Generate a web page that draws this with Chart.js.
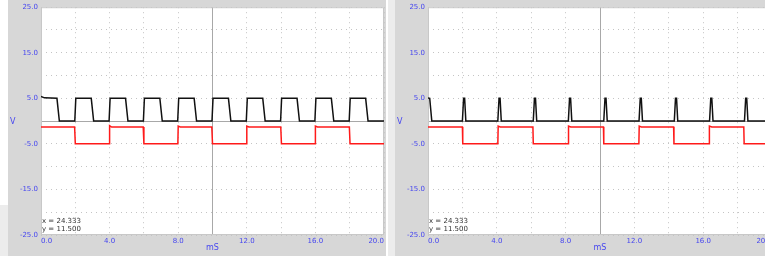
<!DOCTYPE html>
<html>
<head>
<meta charset="utf-8">
<script src="https://cdn.jsdelivr.net/npm/chart.js@4.4.1/dist/chart.umd.min.js"></script>
<style>
  html, body { margin: 0; padding: 0; background: #fff; }
  body { width: 765px; height: 256px; overflow: hidden; position: relative; font-family: "DejaVu Sans", sans-serif; }
  .panel { position: absolute; top: 0; height: 256px; background: #d7d7d7; overflow: hidden; }
  .panel canvas { position: absolute; left: 0; top: 0; }
  .eje-v { position: absolute; left: 2px; top: 117px; font-size: 8px; line-height: 9px; color: #4646f0; }
  .cursor { position: absolute; left: 34px; top: 217px; font-size: 7px; line-height: 8.4px; color: #333; white-space: pre; }
  .franja { position: absolute; background: #ececec; }
</style>
</head>
<body>
<div class="franja" style="left:0; top:205px; width:8px; height:51px;"></div>
<div class="franja" style="left:388px; top:0; width:7px; height:256px;"></div>

<div class="panel" style="left:8px; width:378px;">
  <canvas id="grafIzq" width="378" height="256"></canvas>
  <span class="eje-v">V</span>
  <div class="cursor">x = 24.333
y = 11.500</div>
</div>

<div class="panel" style="left:395px; width:379px;">
  <canvas id="grafDer" width="379" height="256"></canvas>
  <span class="eje-v">V</span>
  <div class="cursor">x = 24.333
y = 11.500</div>
</div>

<script>
// ===== Datos (tiempo en mS, tensión en V) =====
const xEtiquetas = [0, 4, 8, 12, 16, 20];
const yEtiquetas = [25, 15, 5, -5, -15, -25];

// Panel izquierdo: canal negro (onda cuadrada 50%) y canal rojo
const izqNegro = [
    [0, 5.4], [0.2, 5.1], [0.93, 5.0], [1.07, 0],
    [1.97, 0], [2.03, 5.0], [2.93, 5.0], [3.07, 0],
    [3.97, 0], [4.03, 5.0], [4.93, 5.0], [5.07, 0],
    [5.97, 0], [6.03, 5.0], [6.93, 5.0], [7.07, 0],
    [7.97, 0], [8.03, 5.0], [8.93, 5.0], [9.07, 0],
    [9.97, 0], [10.03, 5.0], [10.93, 5.0], [11.07, 0],
    [11.97, 0], [12.03, 5.0], [12.93, 5.0], [13.07, 0],
    [13.97, 0], [14.03, 5.0], [14.93, 5.0], [15.07, 0],
    [15.97, 0], [16.03, 5.0], [16.93, 5.0], [17.07, 0],
    [17.97, 0], [18.03, 5.0], [18.93, 5.0], [19.07, 0],
    [20, 0]
];
const izqRojo = [
    [0, -1.3], [1.96, -1.3], [2.0, -4.95], [3.98, -4.95],
    [4.0, -1.0], [4.12, -1.3], [5.96, -1.3], [6.0, -4.95],
    [7.98, -4.95], [8.0, -1.1], [8.12, -1.3], [9.96, -1.3],
    [10.0, -4.95], [11.96, -4.95], [12.0, -1.1], [12.12, -1.3],
    [13.98, -1.3], [14.02, -4.95], [15.98, -4.95], [16.0, -1.1],
    [16.12, -1.3], [17.98, -1.3], [18.02, -4.95], [20, -4.95]
];

// Panel derecho: pulsos estrechos y canal rojo
const derNegro = [
    [0, 5.1], [0.1, 5.0], [0.22, 0],
    [2.0, 0], [2.07, 5.0], [2.13, 5.0], [2.2, 0],
    [4.06, 0], [4.13, 5.0], [4.19, 5.0], [4.26, 0],
    [6.12, 0], [6.19, 5.0], [6.25, 5.0], [6.32, 0],
    [8.16, 0], [8.23, 5.0], [8.29, 5.0], [8.36, 0],
    [10.22, 0], [10.29, 5.0], [10.35, 5.0], [10.42, 0],
    [12.27, 0], [12.34, 5.0], [12.4, 5.0], [12.47, 0],
    [14.32, 0], [14.39, 5.0], [14.45, 5.0], [14.52, 0],
    [16.37, 0], [16.44, 5.0], [16.5, 5.0], [16.57, 0],
    [18.4, 0], [18.47, 5.0], [18.53, 5.0], [18.6, 0],
    [20, 0]
];
const derRojo = [
    [0, -1.3], [2.0, -1.3], [2.02, -4.95], [4.06, -4.95],
    [4.08, -1.1], [4.2, -1.3], [6.1, -1.3], [6.12, -4.95],
    [8.15, -4.95], [8.17, -1.1], [8.3, -1.3], [10.2, -1.3],
    [10.22, -4.95], [12.26, -4.95], [12.28, -1.1], [12.4, -1.3],
    [14.28, -1.3], [14.3, -4.95], [16.34, -4.95], [16.36, -1.1],
    [16.5, -1.3], [18.36, -1.3], [18.38, -4.95], [20, -4.95]
];

const AZUL = '#4646f0';
const FUENTE = 'DejaVu Sans';

// fondo blanco del área de trazado + marco
const areaBlanca = {
    id: 'areaBlanca',
    beforeDraw(chart) {
        const { ctx, chartArea: a } = chart;
        ctx.save();
        ctx.fillStyle = '#fff';
        ctx.fillRect(a.left, a.top, a.right - a.left, a.bottom - a.top);
        ctx.restore();
    },
    beforeDatasetsDraw(chart) {
        const { ctx, chartArea: a } = chart;
        ctx.save();
        ctx.strokeStyle = '#c8c8c8';
        ctx.lineWidth = 1;
        ctx.strokeRect(a.left + 0.5, a.top + 0.5, a.right - a.left - 1, a.bottom - a.top - 1);
        ctx.restore();
    }
};

function aPuntos(pares) {
    return pares.map(p => ({ x: p[0], y: p[1] }));
}

function crearGrafico(id, negro, rojo) {
    return new Chart(document.getElementById(id), {
        type: 'line',
        data: {
            datasets: [
                { data: aPuntos(rojo), borderColor: '#ff1a1a', borderWidth: 1.5, pointRadius: 0, tension: 0 },
                { data: aPuntos(negro), borderColor: '#111', borderWidth: 1.5, pointRadius: 0, tension: 0 }
            ]
        },
        options: {
            responsive: false,
            animation: false,
            layout: { padding: { top: 5, right: 1, left: 0, bottom: 0 } },
            plugins: { legend: { display: false }, tooltip: { enabled: false } },
            scales: {
                x: {
                    type: 'linear', min: 0, max: 20,
                    ticks: {
                        stepSize: 2, autoSkip: false, maxRotation: 0, align: 'inner', padding: 2,
                        color: AZUL, font: { family: FUENTE, size: 7 },
                        callback: v => xEtiquetas.includes(v) ? v.toFixed(1) : ''
                    },
                    grid: { color: c => (c.tick && c.tick.value === 10) ? '#a8a8a8' : '#c4c4c4', drawTicks: false },
                    border: { display: false, dash: c => (c.tick && c.tick.value === 10) ? [] : [1, 4] },
                    title: { display: true, text: 'mS', color: AZUL, font: { family: FUENTE, size: 8 }, padding: { top: 0, bottom: 3 } },
                    afterFit: s => { s.height = 21; }
                },
                y: {
                    type: 'linear', min: -25, max: 25,
                    ticks: {
                        stepSize: 5, autoSkip: false, padding: 3,
                        color: AZUL, font: { family: FUENTE, size: 7 },
                        callback: v => yEtiquetas.includes(v) ? v.toFixed(1) : ''
                    },
                    grid: { color: c => (c.tick && c.tick.value === 0) ? '#a8a8a8' : '#c4c4c4', drawTicks: false },
                    border: { display: false, dash: c => (c.tick && c.tick.value === 0) ? [] : [1, 4] },
                    afterFit: s => { s.width = 33; }
                }
            }
        },
        plugins: [areaBlanca]
    });
}

crearGrafico('grafIzq', izqNegro, izqRojo);
crearGrafico('grafDer', derNegro, derRojo);
</script>
</body>
</html>
